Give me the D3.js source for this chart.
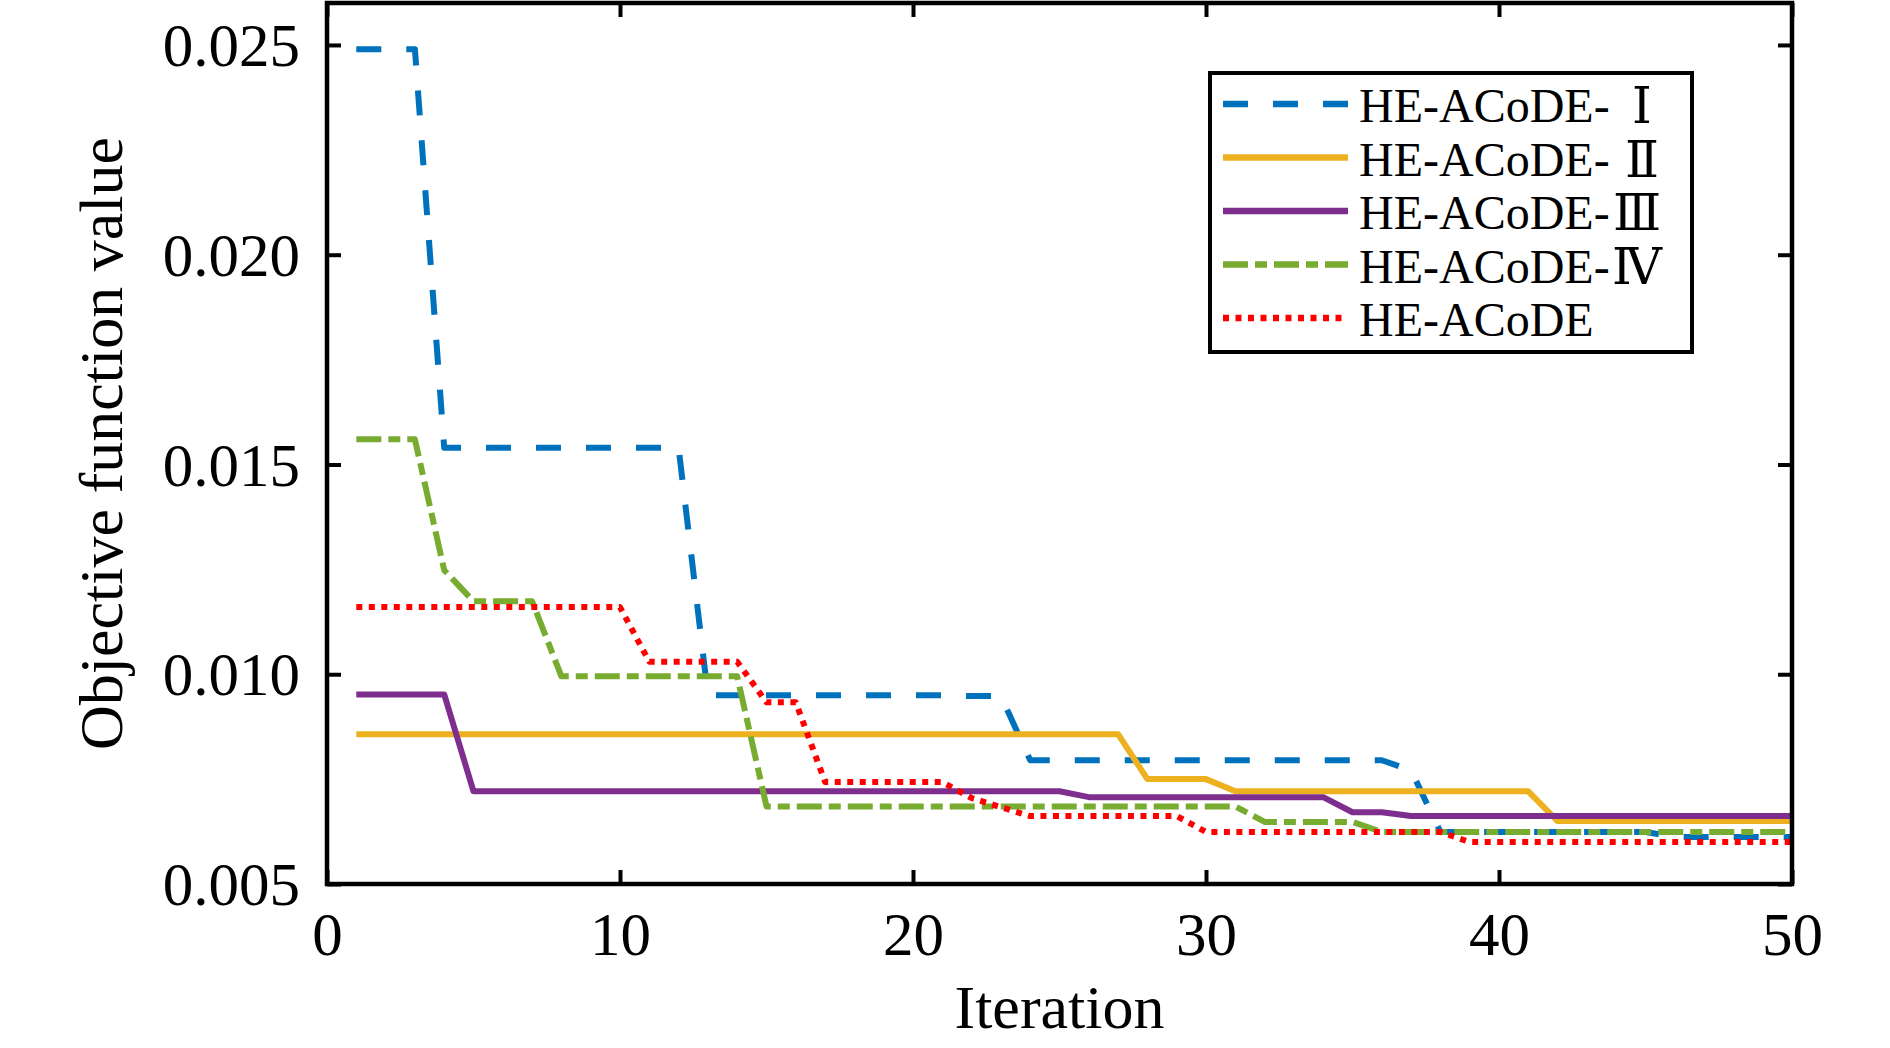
<!DOCTYPE html>
<html>
<head>
<meta charset="utf-8">
<script src="https://cdn.jsdelivr.net/npm/d3@7"></script>
<style>
  body { margin: 0; background: #fff; }
  svg text { font-family: "Liberation Serif", "Times New Roman", serif; fill: #000; }
</style>
</head>
<body>
<div id="chart"></div>
<script>
// iterations 1..50
var iterations = d3.range(1, 51);

var heI = [
  0.0249, 0.0249, 0.0249,
  0.0154, 0.0154, 0.0154, 0.0154, 0.0154, 0.0154, 0.0154, 0.0154, 0.0154,
  0.0095, 0.0095, 0.0095, 0.0095, 0.0095, 0.0095, 0.0095, 0.0095, 0.0095, 0.00948, 0.00948,
  0.00795, 0.00795, 0.00795, 0.00795, 0.00795, 0.00795, 0.00795, 0.00795, 0.00795, 0.00795, 0.00795, 0.00795, 0.00795,
  0.00771,
  0.00624, 0.00624, 0.00624, 0.00624, 0.00624, 0.00624, 0.00624, 0.00624,
  0.00612, 0.00612, 0.00612, 0.00612, 0.00612
];
var heII = [
  0.00857, 0.00857, 0.00857, 0.00857, 0.00857, 0.00857, 0.00857, 0.00857, 0.00857, 0.00857,
  0.00857, 0.00857, 0.00857, 0.00857, 0.00857, 0.00857, 0.00857, 0.00857, 0.00857, 0.00857,
  0.00857, 0.00857, 0.00857, 0.00857, 0.00857, 0.00857, 0.00857,
  0.0075, 0.0075, 0.0075,
  0.00721, 0.00721, 0.00721, 0.00721, 0.00721, 0.00721, 0.00721, 0.00721, 0.00721, 0.00721, 0.00721,
  0.0065, 0.0065, 0.0065, 0.0065, 0.0065, 0.0065, 0.0065, 0.0065, 0.0065
];
var heIII = [
  0.00952, 0.00952, 0.00952, 0.00952,
  0.00721, 0.00721, 0.00721, 0.00721, 0.00721, 0.00721, 0.00721, 0.00721, 0.00721, 0.00721,
  0.00721, 0.00721, 0.00721, 0.00721, 0.00721, 0.00721, 0.00721, 0.00721, 0.00721, 0.00721, 0.00721,
  0.00707, 0.00707, 0.00707, 0.00707, 0.00707, 0.00707, 0.00707, 0.00707, 0.00707,
  0.00671, 0.00671,
  0.00662, 0.00662, 0.00662, 0.00662, 0.00662, 0.00662, 0.00662, 0.00662, 0.00662, 0.00662,
  0.00662, 0.00662, 0.00662, 0.00662
];
var heIV = [
  0.0156, 0.0156, 0.0156,
  0.01248,
  0.01174, 0.01174, 0.01174,
  0.00995, 0.00995, 0.00995, 0.00995, 0.00995, 0.00995, 0.00995,
  0.00685, 0.00685, 0.00685, 0.00685, 0.00685, 0.00685, 0.00685, 0.00685, 0.00685, 0.00685,
  0.00685, 0.00685, 0.00685, 0.00685, 0.00685, 0.00685, 0.00685,
  0.00648, 0.00648, 0.00648, 0.00648,
  0.00624, 0.00624, 0.00624, 0.00624, 0.00624, 0.00624, 0.00624, 0.00624, 0.00624, 0.00624,
  0.00624, 0.00624, 0.00624, 0.00624, 0.00624
];
var heBase = [
  0.0116, 0.0116, 0.0116, 0.0116, 0.0116, 0.0116, 0.0116, 0.0116, 0.0116, 0.0116,
  0.0103, 0.0103, 0.0103, 0.0103,
  0.00933, 0.00933,
  0.00743, 0.00743, 0.00743, 0.00743, 0.00743,
  0.00705,
  0.00683,
  0.00662, 0.00662, 0.00662, 0.00662, 0.00662, 0.00662,
  0.00624, 0.00624, 0.00624, 0.00624, 0.00624, 0.00624, 0.00624, 0.00624, 0.00624,
  0.006, 0.006, 0.006, 0.006, 0.006, 0.006, 0.006, 0.006, 0.006, 0.006, 0.006, 0.006
];

// legend names: prefix + roman numeral
var seriesNames = ["HE-ACoDE-", "HE-ACoDE-", "HE-ACoDE-", "HE-ACoDE-", "HE-ACoDE"];
var seriesNumerals = ["\u2160", "\u2161", "\u2162", "\u2163", ""];
var xTicks = [0, 10, 20, 30, 40, 50];
var yTicks = [0.005, 0.010, 0.015, 0.020, 0.025];

var series = [
  { name: seriesNames[0], num: seriesNumerals[0], values: heI,    color: "#0072BD", dash: "25,25" },
  { name: seriesNames[1], num: seriesNumerals[1], values: heII,   color: "#EDB120", dash: null },
  { name: seriesNames[2], num: seriesNumerals[2], values: heIII,  color: "#7E2F8E", dash: null },
  { name: seriesNames[3], num: seriesNumerals[3], values: heIV,   color: "#77AC30", dash: "25,7,12,7" },
  { name: seriesNames[4], num: seriesNumerals[4], values: heBase, color: "#FF0000", dash: "6,6.5" }
];

var W = 1890, H = 1048;
var pLeft = 327, pRight = 1792, pTop = 3, pBottom = 884;

var svg = d3.select("#chart").append("svg")
  .attr("width", W).attr("height", H);

var x = d3.scaleLinear().domain([0, 50]).range([pLeft, pRight]);
var y = d3.scaleLinear().domain([0.005, 0.026]).range([pBottom, pTop]);

// axes, ticks pointing inward
var gB = svg.append("g").attr("transform", "translate(0," + pBottom + ")")
  .call(d3.axisBottom(x).tickValues(xTicks).tickSizeInner(-14).tickSizeOuter(0));
gB.selectAll("text").attr("y", 71).attr("dy", 0).style("font-size", "61px");

svg.append("g").attr("transform", "translate(0," + pTop + ")")
  .call(d3.axisTop(x).tickValues(xTicks).tickSizeInner(-14).tickSizeOuter(0).tickFormat(""));

var gL = svg.append("g").attr("transform", "translate(" + pLeft + ",0)")
  .call(d3.axisLeft(y).tickValues(yTicks).tickSizeInner(-14).tickSizeOuter(0).tickFormat(d3.format(".3f")));
gL.selectAll("text").attr("x", -27).attr("dy", "0.34em").style("font-size", "61px");

svg.append("g").attr("transform", "translate(" + pRight + ",0)")
  .call(d3.axisRight(y).tickValues(yTicks).tickSizeInner(-14).tickSizeOuter(0).tickFormat(""));

svg.selectAll(".domain").remove();
svg.selectAll(".tick line").attr("stroke", "#000").attr("stroke-width", 4);

// lines
var line = d3.line()
  .x(function(d, i) { return x(iterations[i]); })
  .y(function(d) { return y(d); });

svg.append("g").selectAll("path")
  .data(series)
  .join("path")
  .attr("d", function(s) { return line(s.values); })
  .attr("fill", "none")
  .attr("stroke", function(s) { return s.color; })
  .attr("stroke-width", 6)
  .attr("stroke-linejoin", "round")
  .attr("stroke-dasharray", function(s) { return s.dash; });

// frame
svg.append("rect")
  .attr("x", pLeft).attr("y", pTop)
  .attr("width", pRight - pLeft).attr("height", pBottom - pTop)
  .attr("fill", "none").attr("stroke", "#000").attr("stroke-width", 4.5);

// axis titles
svg.append("text")
  .attr("x", (pLeft + pRight) / 2).attr("y", 1028)
  .attr("text-anchor", "middle")
  .style("font-size", "62px")
  .text("Iteration");

svg.append("text")
  .attr("transform", "translate(122," + ((pTop + pBottom) / 2) + ") rotate(-90)")
  .attr("text-anchor", "middle")
  .style("font-size", "62px")
  .text("Objective function value");

// legend
var lg = svg.append("g");
lg.append("rect")
  .attr("x", 1210).attr("y", 73).attr("width", 482).attr("height", 279)
  .attr("fill", "#fff").attr("stroke", "#000").attr("stroke-width", 4);

var rows = lg.selectAll("g.row")
  .data(series)
  .join("g")
  .attr("class", "row")
  .attr("transform", function(s, i) { return "translate(0," + (104 + i * 53.5) + ")"; });

rows.append("line")
  .attr("x1", 1223).attr("x2", function(s) { return s.dash === "6,6.5" ? 1344 : 1348; })
  .attr("y1", 0).attr("y2", 0)
  .attr("stroke", function(s) { return s.color; })
  .attr("stroke-width", 6.5)
  .attr("stroke-dasharray", function(s) { return s.dash; });

rows.append("text")
  .attr("x", 1359).attr("y", 18)
  .style("font-size", "48px")
  .text(function(s) { return s.name; });

rows.append("text")
  .attr("x", function(s, i) { return i >= 2 ? 1637 : 1642; }).attr("y", 19)
  .attr("text-anchor", "middle")
  .style("font-family", "'DejaVu Serif', 'Noto Sans CJK SC', serif")
  .style("font-size", "50px")
  .text(function(s) { return s.num; });
</script>
</body>
</html>
